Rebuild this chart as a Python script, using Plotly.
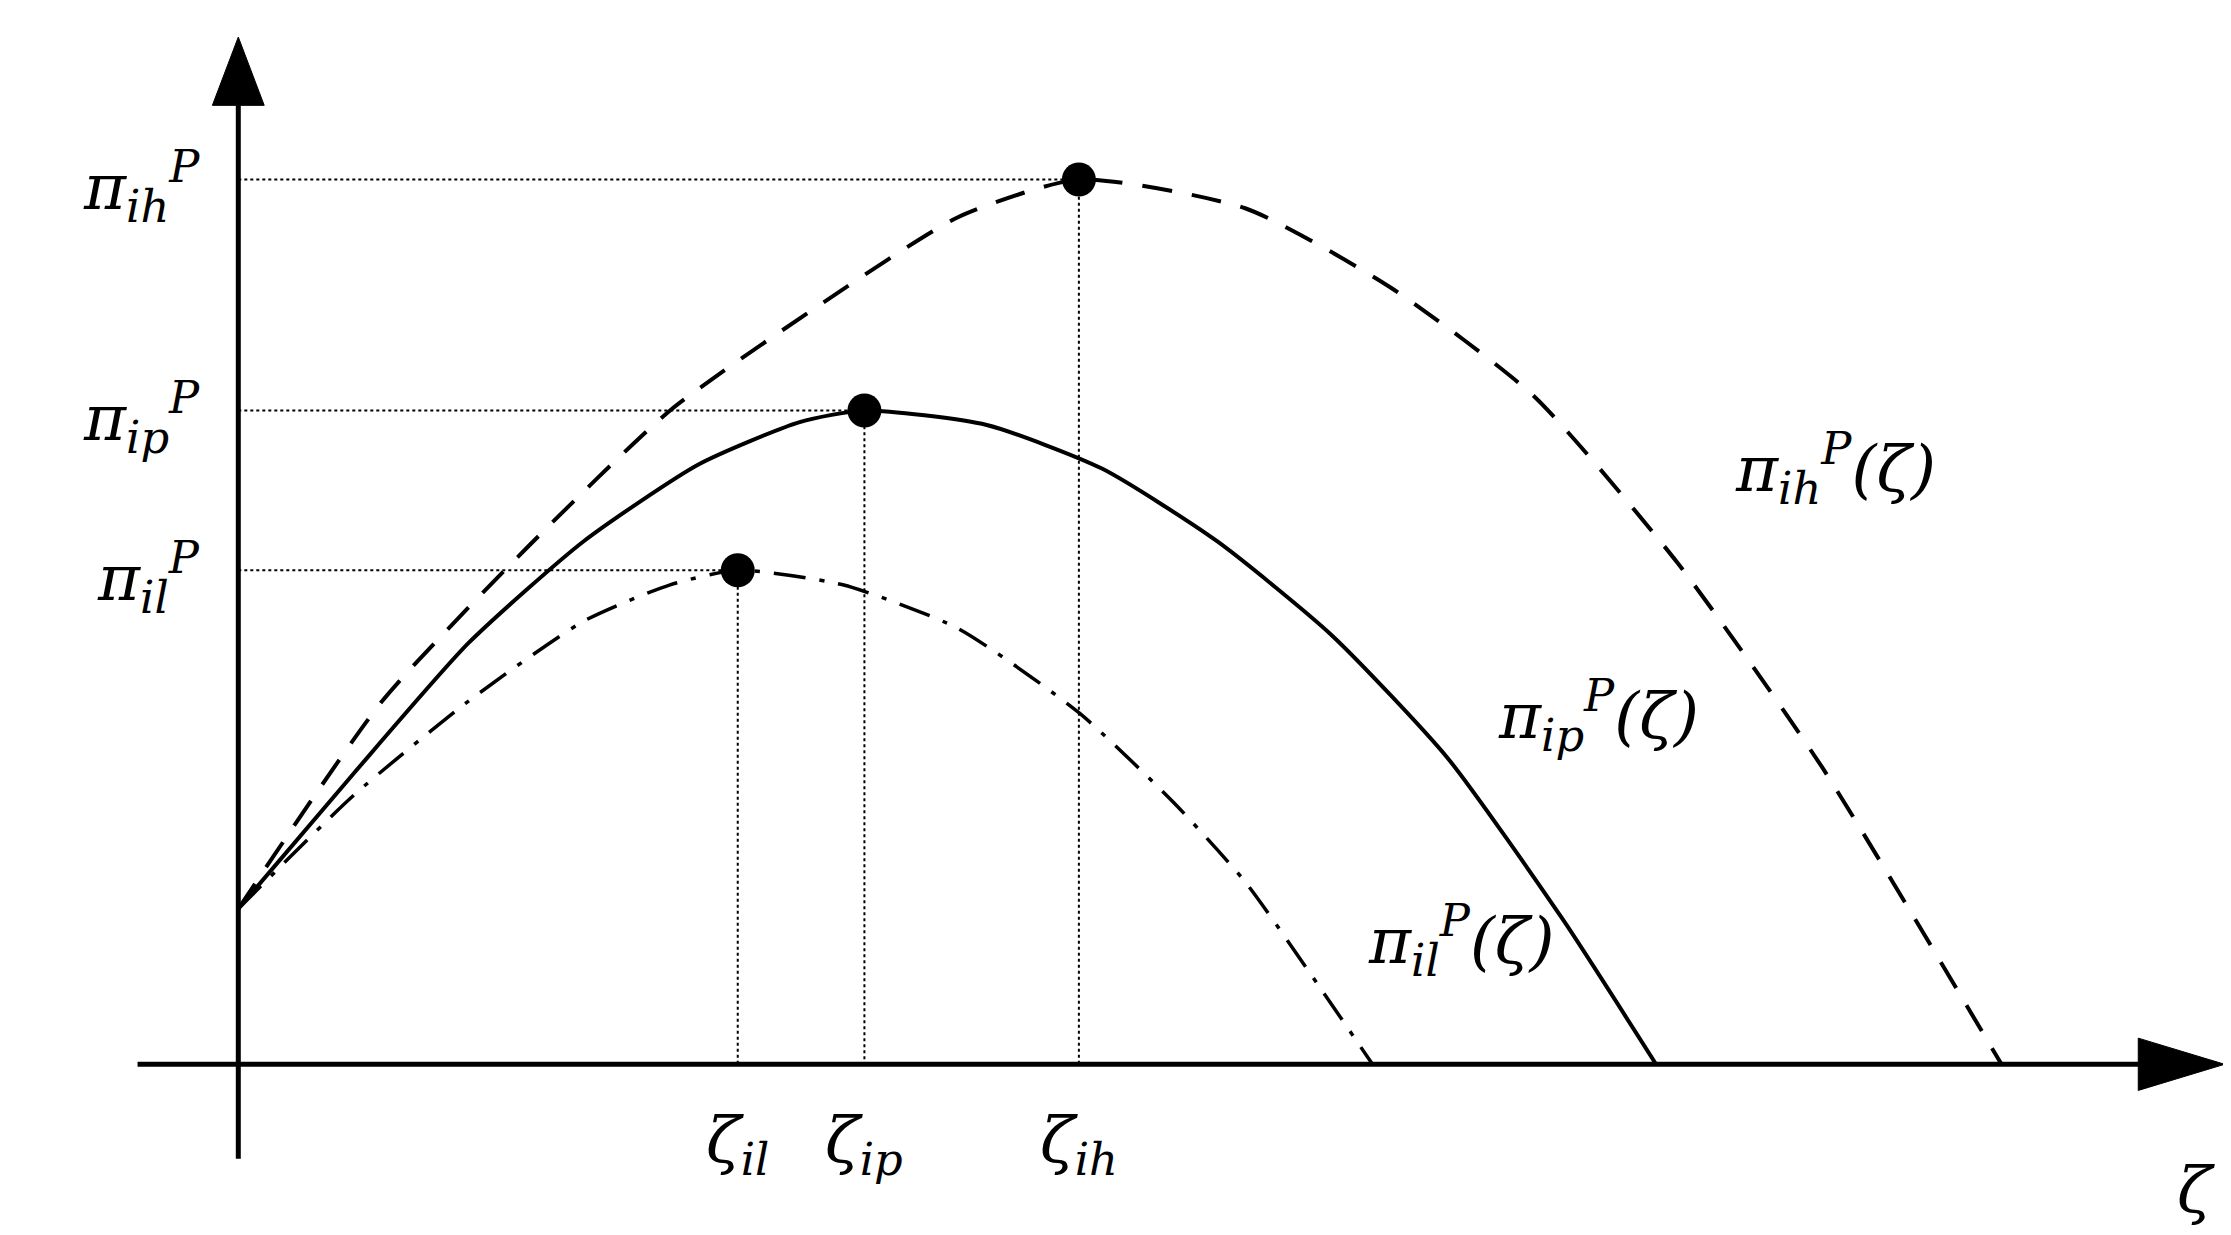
import plotly.graph_objects as go

# curve samples (x: zeta, y: profit)
ih_x = [0, 100, 200, 300, 400, 500, 584, 700, 800, 900, 1000, 1100, 1225]
ih_y = [107, 250, 355, 450, 520, 583, 609, 589, 535, 460, 345, 205, 0]
ip_x = [0, 80, 160, 240, 320, 390, 435, 520, 600, 680, 760, 840, 920, 985]
ip_y = [107, 200, 290, 360, 413, 442, 450, 440, 410, 360, 295, 211, 100, 0]
il_x = [0, 80, 160, 240, 300, 347, 420, 500, 584, 650, 700, 750, 788]
il_y = [107, 185, 250, 305, 330, 340, 330, 300, 242, 180, 125, 55, 0]

peak_x = [347, 435, 584]
peak_y = [340, 450, 609]
zeta_labels = ["ζ<sub>il</sub>", "ζ<sub>ip</sub>", "ζ<sub>ih</sub>"]
pi_labels = ["π<sub>il</sub><sup>P</sup>", "π<sub>ip</sub><sup>P</sup>", "π<sub>ih</sub><sup>P</sup>"]

FONT = dict(family="DejaVu Serif", size=64, color="black")

fig = go.Figure()

# dotted guides
for px, py in zip(peak_x, peak_y):
    fig.add_trace(go.Scatter(x=[0, px, px], y=[py, py, 0], mode="lines",
                             line=dict(color="black", width=2, dash="dot"), hoverinfo="skip"))

fig.add_trace(go.Scatter(x=ih_x, y=ih_y, mode="lines", line=dict(color="black", width=4, dash="30px,20px", shape="spline", smoothing=0.6)))
fig.add_trace(go.Scatter(x=ip_x, y=ip_y, mode="lines", line=dict(color="black", width=4, shape="spline", smoothing=0.6)))
fig.add_trace(go.Scatter(x=il_x, y=il_y, mode="lines", line=dict(color="black", width=3.5, dash="32px,14px,5px,14px", shape="spline", smoothing=0.6)))
fig.add_trace(go.Scatter(x=peak_x, y=peak_y, mode="markers", marker=dict(color="black", size=34)))

# axes with arrows
fig.add_shape(type="line", x0=-70, y0=0, x1=1330, y1=0, line=dict(color="black", width=5))
fig.add_shape(type="line", x0=0, y0=-65, x1=0, y1=660, line=dict(color="black", width=5))
fig.add_shape(type="path", path="M 1320,-18 L 1380,0 L 1320,18 Z", fillcolor="black", line=dict(color="black", width=1))
fig.add_shape(type="path", path="M -18,660 L 0,707 L 18,660 Z", fillcolor="black", line=dict(color="black", width=1))

for px, lab in zip(peak_x, zeta_labels):
    fig.add_annotation(x=px, y=-25, text="<i>" + lab + "</i>", showarrow=False, yanchor="top", font=FONT)
for py, lab in zip(peak_y, pi_labels):
    fig.add_annotation(x=-25, y=py - 5, text="<i>" + lab + "</i>", showarrow=False, xanchor="right", font=FONT)
fig.add_annotation(x=1360, y=-60, text="<i>ζ</i>", showarrow=False, yanchor="top", font=FONT)
fig.add_annotation(x=1110, y=410, text="<i>π<sub>ih</sub><sup>P</sup>(ζ)</i>", showarrow=False, font=FONT)
fig.add_annotation(x=945, y=240, text="<i>π<sub>ip</sub><sup>P</sup>(ζ)</i>", showarrow=False, font=FONT)
fig.add_annotation(x=850, y=85, text="<i>π<sub>il</sub><sup>P</sup>(ζ)</i>", showarrow=False, font=FONT)

fig.update_layout(width=2231, height=1235, margin=dict(l=0, r=0, t=0, b=0),
                  plot_bgcolor="white", paper_bgcolor="white", showlegend=False,
                  xaxis=dict(range=[-160, 1390], visible=False),
                  yaxis=dict(range=[-123, 727], visible=False))
fig.write_html("out.html")
